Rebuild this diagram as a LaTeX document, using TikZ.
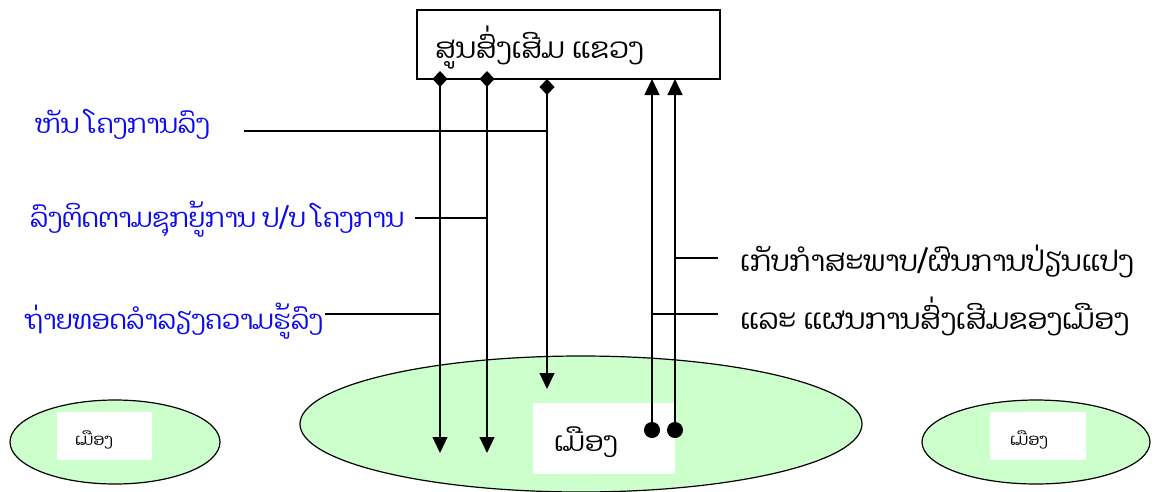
\documentclass[tikz,border=0pt]{standalone}
\usepackage{fontspec}
\newfontfamily\laofont[Script=Lao]{Dhyana}
\usetikzlibrary{arrows.meta,shapes.geometric}
\definecolor{lgreen}{RGB}{204,255,204}
\definecolor{lblue}{RGB}{10,10,240}
\begin{document}
\begin{tikzpicture}[x=1pt,y=-1pt,
  lbl/.style={font=\laofont\fontsize{28.5}{31}\selectfont, inner sep=0pt},
  bluelbl/.style={lbl, font=\laofont\fontsize{26.3}{29}\selectfont, text=lblue},
  pad/.style={fill=lgreen, draw=black, line width=1.2pt, ellipse, inner sep=0pt},
  whitebox/.style={fill=white, draw=none, inner sep=0pt},
  down/.style={line width=1.1pt, {Diamond[length=16pt,width=15pt]}-{Triangle[length=16pt,width=15pt]}},
  up/.style={line width=1.1pt, {Circle[length=16pt]}-{Triangle[length=16pt,width=15pt]}},
  link/.style={line width=1.1pt}]
\useasboundingbox (0,0) rectangle (1157,491);
% ellipses
\node[pad, minimum width=562pt, minimum height=136pt] (bigE) at (581,424) {};
\node[pad, minimum width=210pt, minimum height=84pt] (leftE) at (115,442) {};
\node[pad, minimum width=228pt, minimum height=84pt] (rightE) at (1036,442) {};
\node[whitebox, minimum width=142pt, minimum height=71pt] (bigB) at (604,438.5) {};
\node[whitebox, minimum width=95pt, minimum height=48pt] (leftB) at (104.5,436) {};
\node[whitebox, minimum width=96pt, minimum height=48pt] (rightB) at (1038,436) {};
\node[lbl, font=\laofont\fontsize{27}{30}\selectfont, anchor=west] (bigT) at (554,442) {ເມືອງ};
\node[lbl, font=\laofont\fontsize{16}{18}\selectfont, anchor=west] (leftT) at (75,440) {ເມືອງ};
\node[lbl, font=\laofont\fontsize{16}{18}\selectfont, anchor=west] (rightT) at (1010,440) {ເມືອງ};
% top box
\node[draw=black, line width=1.2pt, fill=white, minimum width=303pt, minimum height=69pt, inner sep=0pt] (top) at (568.5,44.5) {};
\node[lbl, anchor=west] (topT) at (435,48) {ສູນສົ່ງເສີມ ແຂວງ};
% coordinates
\coordinate (s1) at (440,71);
\coordinate (e1) at (440,453);
\coordinate (s2) at (487,71);
\coordinate (e2) at (487,453);
\coordinate (s3) at (547,79);
\coordinate (e3) at (547,389);
\coordinate (u1) at (652,438);
\coordinate (t1) at (652,79);
\coordinate (u2) at (675,438);
\coordinate (t2) at (675,79);
\draw[down] (s1) -- (e1);
\draw[down] (s2) -- (e2);
\draw[down] (s3) -- (e3);
\draw[up] (u1) -- (t1);
\draw[up] (u2) -- (t2);
% labels
\node[bluelbl, anchor=west] (b1) at (35,124) {ຫັນ ໂຄງການລົງ};
\node[bluelbl, anchor=west] (b2) at (30,219) {ລົງຕິດຕາມຊຸກຍູ້ການ ປ/ບ ໂຄງການ};
\node[bluelbl, anchor=west] (b3) at (25,321) {ຖ່າຍທອດລຳລຽງຄວາມຮູ້ລົງ};
\node[lbl, anchor=west] (r1) at (740,261) {ເກັບກຳສະພາບ/ຜົນການປ່ຽນແປງ};
\node[lbl, anchor=west] (r2) at (740,316) {ແລະ ແຜນການສົ່ງເສີມຂອງເມືອງ};
\coordinate (h1) at (244,131);
\coordinate (h2) at (415,218);
\coordinate (h3) at (325,314);
\coordinate (k1) at (718,258);
\coordinate (k2) at (718,314);
\draw[link] (h1) -- (h1 -| s3);
\draw[link] (h2) -- (h2 -| s2);
\draw[link] (h3) -- (h3 -| s1);
\draw[link] (k1) -- (k1 -| u2);
\draw[link] (k2) -- (k2 -| u1);
\end{tikzpicture}
\end{document}
